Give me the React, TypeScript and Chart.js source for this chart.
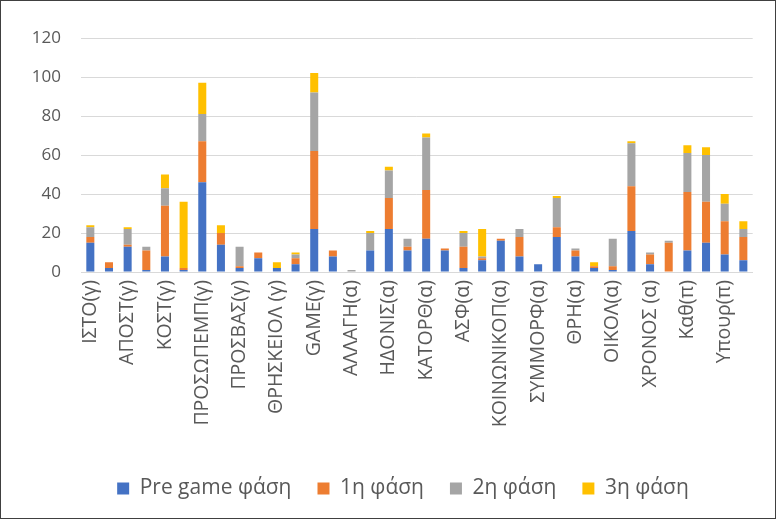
import React, { useEffect, useRef } from "react";
import { Chart, registerables } from "chart.js";

Chart.register(...registerables);

const categories: string[] = [
  "ΙΣΤΟ(γ)", "", "ΑΠΟΣΤ(γ)", "", "ΚΟΣΤ(γ)", "", "ΠΡΟΣΩΠΕΜΠ(γ)", "",
  "ΠΡΟΣΒΑΣ(γ)", "", "ΘΡΗΣΚΕΙΟΛ (γ)", "", "GAME(γ)", "", "ΑΛΛΑΓΗ(α)", "",
  "ΗΔΟΝΙΣ(α)", "", "ΚΑΤΟΡΘ(α)", "", "ΑΣΦ(α)", "", "ΚΟΙΝΩΝΙΚΟΠ(α)", "",
  "ΣΥΜΜΟΡΦ(α)", "", "ΘΡΗ(α)", "", "ΟΙΚΟΛ(α)", "", "ΧΡΟΝΟΣ (α)", "",
  "Καθ(π)", "", "Υπουρ(π)", "",
];

const preGame: number[] = [15, 2, 13, 1, 8, 1, 46, 14, 2, 7, 2, 4, 22, 8, 0, 11, 22, 11, 17, 11, 2, 6, 16, 8, 4, 18, 8, 2, 1, 21, 4, 0, 11, 15, 9, 6];
const phase1: number[] = [3, 3, 1, 10, 26, 1, 21, 6, 1, 3, 0, 3, 40, 3, 0, 0, 16, 2, 25, 1, 11, 1, 1, 10, 0, 5, 3, 1, 2, 23, 5, 15, 30, 21, 17, 12];
const phase2: number[] = [5, 0, 8, 2, 9, 0, 14, 0, 10, 0, 0, 2, 30, 0, 1, 9, 14, 4, 27, 0, 7, 1, 0, 4, 0, 15, 1, 0, 14, 22, 1, 1, 20, 24, 9, 4];
const phase3: number[] = [1, 0, 1, 0, 7, 34, 16, 4, 0, 0, 3, 1, 10, 0, 0, 1, 2, 0, 2, 0, 1, 14, 0, 0, 0, 1, 0, 2, 0, 1, 0, 0, 4, 4, 5, 4];

const seriesNames: string[] = ["Pre game φάση", "1η φάση", "2η φάση", "3η φάση"];
const seriesColors: string[] = ["#4472C4", "#ED7D31", "#A5A5A5", "#FFC000"];

const FONT = "'Open Sans', 'Noto Sans', sans-serif";

const shiftLegend = {
  id: "shiftLegend",
  afterLayout(chart: any) {
    const lg = chart.legend;
    if (lg) {
      lg.left += 24;
      lg.right += 24;
      if (lg.legendHitBoxes) {
        lg.legendHitBoxes.forEach((h: any) => (h.left += 24));
      }
    }
  },
};

export default function App() {
  const ref = useRef<HTMLCanvasElement | null>(null);

  useEffect(() => {
    document.body.style.margin = "0";
    const canvas = ref.current;
    if (!canvas) return;
    const values = [preGame, phase1, phase2, phase3];
    const chart = new Chart(canvas, {
      type: "bar",
      data: {
        labels: categories,
        datasets: values.map((d, i) => ({
          label: seriesNames[i],
          data: d,
          backgroundColor: seriesColors[i],
          borderWidth: 0,
          barPercentage: 0.43,
          categoryPercentage: 1,
        })),
      },
      plugins: [shiftLegend],
      options: {
        responsive: false,
        animation: false,
        maintainAspectRatio: false,
        layout: { padding: { top: 37, right: 18, bottom: 9, left: 0 } },
        plugins: {
          legend: {
            position: "bottom",
            labels: {
              boxWidth: 12,
              boxHeight: 12,
              padding: 26,
              color: "#595959",
              font: { family: FONT, size: 21 },
            },
          },
          tooltip: { enabled: false },
        },
        scales: {
          x: {
            stacked: true,
            grid: { display: false, drawTicks: false },
            border: { display: true, color: "#d9d9d9", width: 1 },
            ticks: {
              autoSkip: false,
              maxRotation: 90,
              minRotation: 90,
              padding: 8,
              color: "#595959",
              font: { family: FONT, size: 19.5 },
            },
            afterFit: (scale: any) => {
              scale.height = 180;
            },
          },
          y: {
            stacked: true,
            min: 0,
            max: 120,
            ticks: {
              stepSize: 20,
              padding: 20,
              color: "#595959",
              font: { family: FONT, size: 17 },
            },
            grid: { color: "#d9d9d9", lineWidth: 1, drawTicks: false },
            border: { display: false },
            afterFit: (scale: any) => {
              scale.width = 80;
            },
          },
        },
      },
    });
    return () => chart.destroy();
  }, []);

  return (
    <div
      style={{
        position: "fixed",
        left: 0,
        top: 0,
        width: 776,
        height: 519,
        boxSizing: "border-box",
        border: "1px solid #404040",
        background: "#fff",
      }}
    >
      <canvas ref={ref} width={774} height={517} style={{ display: "block" }} />
    </div>
  );
}
